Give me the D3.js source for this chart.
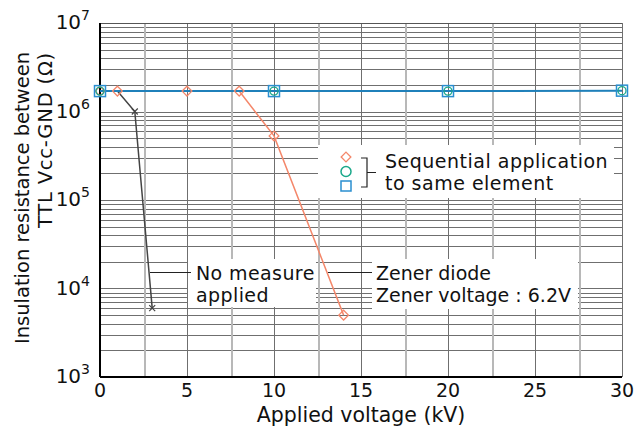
<!DOCTYPE html>
<meta charset="utf-8">
<style>
  body { margin: 0; background: #fff; }
  svg { font-family: "DejaVu Sans", sans-serif; fill: #111; }
  .grid line { stroke: #6f6f6f; stroke-width: 1px; shape-rendering: crispEdges; }
  .grid line.light { stroke: #b8b8b8; stroke-width: 2px; }
</style>
<body>
<div id="chart"></div>
<script src="https://d3js.org/d3.v7.min.js"></script>
<script>
  // data
  var noMeasureX = [0, 1, 2, 3];
  var noMeasureY = [1.7e6, 1.7e6, 1.0e6, 6.0e3];

  var zenerX = [0, 1, 5, 8, 10, 14];
  var zenerY = [1.7e6, 1.7e6, 1.7e6, 1.7e6, 5.3e5, 5.0e3];

  var seqX = [0, 10, 20, 30];
  var seqY = [1.7e6, 1.7e6, 1.7e6, 1.72e6];

  var xTicks = [0, 5, 10, 15, 20, 25, 30];
  var yExponents = [3, 4, 5, 6, 7];

  var W = 634, H = 426;
  var m = {top: 23, right: 12, bottom: 49, left: 100};
  var w = W - m.left - m.right, h = H - m.top - m.bottom;

  var svg = d3.select("#chart").append("svg")
      .attr("width", W).attr("height", H);
  var g = svg.append("g").attr("transform", "translate(" + m.left + "," + m.top + ")");

  var x = d3.scaleLinear().domain([0, 30]).range([0, w]);
  var y = d3.scaleLog().domain([1e3, 1e7]).range([h, 0]);

  // grid
  var grid = g.append("g").attr("class", "grid");
  var minor = [];
  for (var e = 3; e < 7; e++) for (var k = 1; k < 10; k++) minor.push(k * Math.pow(10, e));
  grid.selectAll("line.h").data(minor).enter().append("line")
      .attr("class", "h")
      .attr("x1", 0).attr("x2", w)
      .attr("y1", function(d) { return Math.round(y(d)) + 0.5; })
      .attr("y2", function(d) { return Math.round(y(d)) + 0.5; });
  grid.selectAll("line.v").data(d3.range(2.5, 30.1, 2.5)).enter().append("line")
      .attr("class", function(d) { return d % 5 === 0 ? "v" : "v light"; })
      .attr("y1", 0).attr("y2", h)
      .attr("x1", function(d) { return Math.round(x(d)) + 0.5; })
      .attr("x2", function(d) { return Math.round(x(d)) + 0.5; });
  g.append("line").attr("x1", 0).attr("x2", w).attr("y1", 0.5).attr("y2", 0.5)
      .attr("stroke", "#555").attr("shape-rendering", "crispEdges");

  // axes frame
  g.append("line").attr("x1", 0).attr("x2", 0).attr("y1", 0).attr("y2", h)
      .attr("stroke", "#000").attr("stroke-width", 2);
  g.append("line").attr("x1", 0).attr("x2", w).attr("y1", h).attr("y2", h)
      .attr("stroke", "#000").attr("stroke-width", 2);

  // tick labels
  g.selectAll(".xt").data(xTicks).enter().append("text")
      .attr("x", function(d) { return x(d); })
      .attr("y", h + 20)
      .attr("text-anchor", "middle")
      .attr("font-size", 19)
      .text(String);
  var yt = g.selectAll(".yt").data(yExponents).enter().append("text")
      .attr("x", -10).attr("y", function(d) { return y(Math.pow(10, d)) + 6; })
      .attr("text-anchor", "end")
      .attr("font-size", 20);
  yt.append("tspan").text("10");
  yt.append("tspan").attr("dy", -9).attr("font-size", 14).text(String);

  svg.append("text").attr("x", m.left + w / 2).attr("y", 422)
      .attr("text-anchor", "middle").attr("font-size", 20.5)
      .text("Applied voltage (kV)");
  var yl = svg.append("text").attr("transform", "translate(29,52) rotate(-90)")
      .attr("text-anchor", "end").attr("font-size", 19.5);
  yl.append("tspan").attr("x", 0).attr("dy", 0).text("Insulation resistance between");
  yl.append("tspan").attr("x", 0).attr("dy", 23).attr("letter-spacing", 0.8).text("TTL Vcc-GND (\u03A9)");

  // annotation boxes
  g.append("rect").attr("x", 318 - m.left).attr("y", 145 - m.top).attr("width", 296).attr("height", 53).attr("fill", "#fff");
  g.append("rect").attr("x", 188 - m.left).attr("y", 259 - m.top).attr("width", 128).attr("height", 48).attr("fill", "#fff");
  g.append("rect").attr("x", 372 - m.left).attr("y", 259 - m.top).attr("width", 206).attr("height", 50).attr("fill", "#fff");

  var line = d3.line().x(function(d) { return x(d[0]); }).y(function(d) { return y(d[1]); });
  var zip = function(a, b) { return a.map(function(v, i) { return [v, b[i]]; }); };

  var zener = zip(zenerX, zenerY), noMeasure = zip(noMeasureX, noMeasureY), seq = zip(seqX, seqY);

  g.append("path").datum(zener).attr("d", line).attr("fill", "none").attr("stroke", "#f4876a").attr("stroke-width", 1.5);
  g.append("path").datum(noMeasure).attr("d", line).attr("fill", "none").attr("stroke", "#444").attr("stroke-width", 1.5);
  g.append("path").datum(seq).attr("d", line).attr("fill", "none").attr("stroke", "#1f80ba").attr("stroke-width", 2);

  var diamond = d3.symbol().type(d3.symbolDiamond2).size(60);
  g.selectAll(".zd").data(zener).enter().append("path")
      .attr("transform", function(d) { return "translate(" + x(d[0]) + "," + y(d[1]) + ")"; })
      .attr("d", diamond).attr("fill", "none").attr("stroke", "#f4876a").attr("stroke-width", 1.3);
  g.selectAll(".nm").data(noMeasure.slice(2)).enter().append("path")
      .attr("transform", function(d) { return "translate(" + x(d[0]) + "," + y(d[1]) + ")"; })
      .attr("d", d3.symbol().type(d3.symbolTimes).size(25)).attr("fill", "none").attr("stroke", "#444").attr("stroke-width", 1.2);
  g.selectAll(".sc").data(seq).enter().append("circle")
      .attr("cx", function(d) { return x(d[0]); }).attr("cy", function(d) { return y(d[1]); })
      .attr("r", 4).attr("fill", "none").attr("stroke", "#1aa88a").attr("stroke-width", 1.3);
  g.selectAll(".ss").data(seq).enter().append("rect")
      .attr("x", function(d) { return x(d[0]) - 5.5; }).attr("y", function(d) { return y(d[1]) - 5.5; })
      .attr("width", 11).attr("height", 11)
      .attr("fill", "none").attr("stroke", "#2a8fd0").attr("stroke-width", 1.5);

  // legend
  var lg = svg.append("g");
  lg.append("path").attr("transform", "translate(346,157)").attr("d", diamond)
      .attr("fill", "none").attr("stroke", "#f4876a").attr("stroke-width", 1.3);
  lg.append("circle").attr("cx", 346).attr("cy", 171.5).attr("r", 5)
      .attr("fill", "none").attr("stroke", "#1aa88a").attr("stroke-width", 1.5);
  lg.append("rect").attr("x", 341).attr("y", 181).attr("width", 10).attr("height", 10)
      .attr("fill", "none").attr("stroke", "#2a8fd0").attr("stroke-width", 1.5);
  lg.append("path").attr("d", "M361,158H367V187H361M367,172.5H376")
      .attr("fill", "none").attr("stroke", "#222").attr("stroke-width", 1.2);
  lg.append("text").attr("x", 385).attr("y", 168).attr("font-size", 19).attr("letter-spacing", 0.5).text("Sequential application");
  lg.append("text").attr("x", 385).attr("y", 190).attr("font-size", 19).attr("letter-spacing", 0.5).text("to same element");

  // callouts
  svg.append("line").attr("x1", 150).attr("x2", 191).attr("y1", 272.5).attr("y2", 272.5).attr("stroke", "#222").attr("stroke-width", 1.2);
  svg.append("text").attr("x", 196).attr("y", 280).attr("font-size", 19).attr("letter-spacing", 0.4).text("No measure");
  svg.append("text").attr("x", 196).attr("y", 302).attr("font-size", 19).attr("letter-spacing", 0.4).text("applied");
  svg.append("line").attr("x1", 328).attr("x2", 372).attr("y1", 272.5).attr("y2", 272.5).attr("stroke", "#222").attr("stroke-width", 1.2);
  svg.append("text").attr("x", 376).attr("y", 280).attr("font-size", 19).text("Zener diode");
  svg.append("text").attr("x", 376).attr("y", 302).attr("font-size", 19).text("Zener voltage : 6.2V");
</script>
</body>
